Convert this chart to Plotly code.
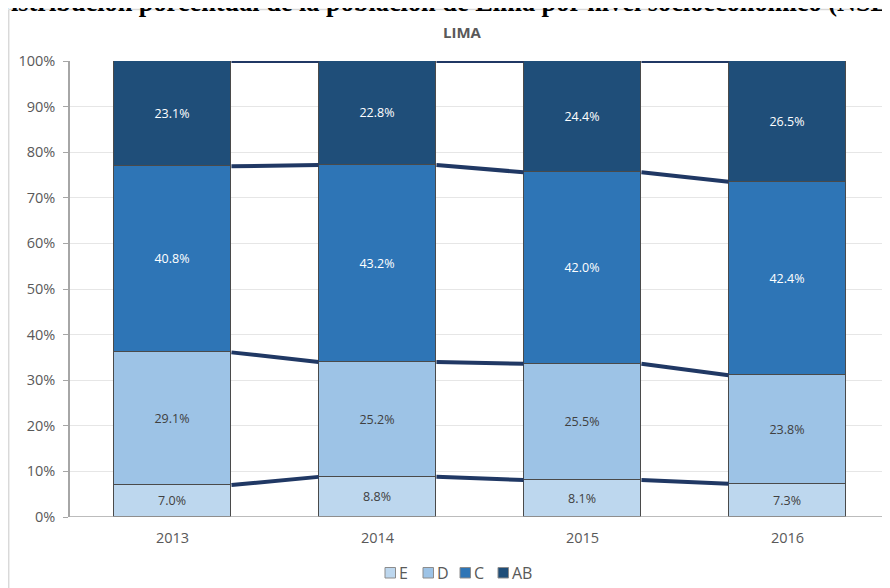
import plotly.graph_objects as go

years = ["2013", "2014", "2015", "2016"]
series_names = ["E", "D", "C", "AB"]
val_E = [7.0, 8.8, 8.1, 7.3]
val_D = [29.1, 25.2, 25.5, 23.8]
val_C = [40.8, 43.2, 42.0, 42.4]
val_AB = [23.1, 22.8, 24.4, 26.5]
colors = ["#BDD7EE", "#9DC3E6", "#2E75B6", "#1F4E79"]
text_colors = ["#404040", "#404040", "#FFFFFF", "#FFFFFF"]
y_ticks = [0, 10, 20, 30, 40, 50, 60, 70, 80, 90, 100]
y_tick_labels = [f"{t}%" for t in y_ticks]

all_vals = [val_E, val_D, val_C, val_AB]
xs = list(range(len(years)))
bar_w = 0.575

# figure geometry (page has 8px body margin)
W, H = 882, 580
ML, MR, MT, MB = 62, 0, 53, 71
PW, PH = W - ML - MR, H - MT - MB


def px(x):
    return (x - ML) / PW


def py(y):
    return (H - MB - y) / PH


fig = go.Figure()

for name, vals, col, tcol in zip(series_names, all_vals, colors, text_colors):
    fig.add_trace(go.Bar(
        x=xs, y=vals, name=name, width=bar_w,
        marker=dict(color=col, line=dict(color="#4a4a4a", width=1)),
        text=[f"{v:.1f}%" for v in vals], textposition="inside",
        insidetextanchor="middle", textangle=0,
        textfont=dict(color=tcol, size=12.5, family="Open Sans"),
        constraintext="none", hoverinfo="skip", showlegend=False,
    ))

# series lines connecting cumulative tops between bars
cum = [0.0] * len(years)
for vals in all_vals:
    cum = [c + v for c, v in zip(cum, vals)]
    for i in range(len(years) - 1):
        fig.add_trace(go.Scatter(
            x=[xs[i] + bar_w / 2, xs[i + 1] - bar_w / 2],
            y=[cum[i], cum[i + 1]],
            mode="lines", line=dict(color="#203864", width=4),
            showlegend=False, hoverinfo="skip", cliponaxis=False,
        ))

annotations = [
    dict(text="<b>LIMA</b>", x=px(454), y=py(24), xref="paper", yref="paper",
         showarrow=False, font=dict(size=15, color="#595959", family="Open Sans"),
         xanchor="center", yanchor="middle"),
    dict(text="<b>Distribución porcentual de la población de Lima por nivel socioeconómico (NSE)</b>",
         x=px(436), y=py(11), xref="paper", yref="paper", showarrow=False,
         font=dict(size=26.3, color="#000000", family="Liberation Serif"),
         xanchor="center", yanchor="bottom"),
]
shapes = [
    dict(type="line", xref="paper", yref="paper", x0=px(0.7), x1=px(W + 20), y0=py(1.5), y1=py(1.5),
         line=dict(color="#d9d9d9", width=1.5)),
    dict(type="line", xref="paper", yref="paper", x0=px(0.7), x1=px(0.7), y0=py(1.5), y1=py(H + 20),
         line=dict(color="#d9d9d9", width=1.5)),
    dict(type="line", xref="paper", yref="y", x0=0, x1=1, y0=0, y1=0,
         line=dict(color="#a6a6a6", width=1.5)),
]

# legend (manual, compact like the original)
leg_x = [377, 415, 452, 490]
for name, col, lx in zip(series_names, colors, leg_x):
    shapes.append(dict(type="rect", xref="paper", yref="paper",
                       x0=px(lx), x1=px(lx + 10.5), y0=py(559.5), y1=py(570),
                       fillcolor=col, line=dict(color="#8c8c8c", width=1)))
    annotations.append(dict(text=name, x=px(lx + 12), y=py(565), xref="paper", yref="paper",
                            showarrow=False, xanchor="left", yanchor="middle",
                            font=dict(size=16, color="#595959", family="Open Sans")))

fig.update_layout(
    barmode="stack",
    width=W, height=H,
    margin=dict(l=ML, r=MR, t=MT, b=MB, autoexpand=False),
    paper_bgcolor="white", plot_bgcolor="white",
    font=dict(family="Open Sans", color="#595959"),
    bargap=0,
    showlegend=False,
    xaxis=dict(range=[-0.5, 3.5], tickmode="array", tickvals=xs, ticktext=years,
               showgrid=False, zeroline=False, showline=False,
               tickfont=dict(size=14.5, color="#595959"), ticks="", ticklabelstandoff=10),
    yaxis=dict(range=[0, 100], tickmode="array", tickvals=y_ticks, ticktext=y_tick_labels,
               showgrid=True, gridcolor="#e6e6e6", gridwidth=1, zeroline=False,
               showline=True, linecolor="#a6a6a6", linewidth=1.5,
               ticks="outside", ticklen=5, tickcolor="#a6a6a6",
               ticklabelstandoff=5,
               tickfont=dict(size=14.5, color="#595959")),
    annotations=annotations,
    shapes=shapes,
)

fig.write_html("out.html")
